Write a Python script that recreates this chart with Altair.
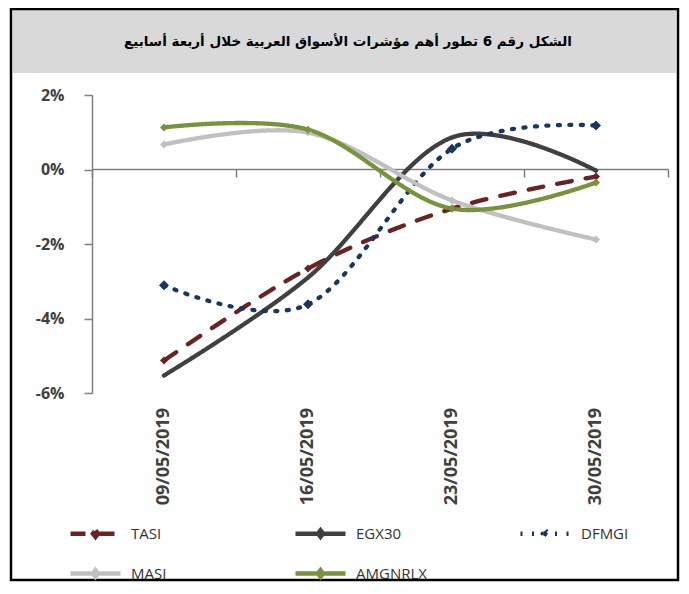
import altair as alt
import pandas as pd

dates = ["09/05/2019", "16/05/2019", "23/05/2019", "30/05/2019"]
series = ["TASI", "EGX30", "DFMGI", "MASI", "AMGNRLX"]
tasi = [-5.13, -2.66, -1.05, -0.19]
egx30 = [-5.53, -2.90, 0.86, -0.03]
dfmgi = [-3.11, -3.62, 0.56, 1.18]
masi = [0.67, 0.99, -0.83, -1.88]
amgnrlx = [1.13, 1.07, -1.05, -0.35]
y_ticks = [-6, -4, -2, 0, 2]
title_text = "الشكل رقم 6 تطور أهم مؤشرات الأسواق العربية خلال أربعة أسابيع"

colors = ["#6b2222", "#404040", "#17375e", "#c0c0c0", "#77933c"]
dashes = [[15, 14], [1, 0], [2, 9.5], [1, 0], [1, 0]]
marker_sizes = [64, 25, 100, 64, 64]
legend_sizes = [2500, 2500, 2500, 2500, 2500]

values = {"TASI": tasi, "EGX30": egx30, "DFMGI": dfmgi, "MASI": masi, "AMGNRLX": amgnrlx}
rows = []
for s in series:
    for d, v in zip(dates, values[s]):
        rows.append({"series": s, "marker": s, "date": d, "value": v})
df = pd.DataFrame(rows)
dates_df = pd.DataFrame({"date": dates})

axis_color = "#7f7f7f"
x_enc = alt.X(
    "date:N",
    sort=dates,
    scale=alt.Scale(type="band", domain=dates, paddingInner=0, paddingOuter=0),
    axis=alt.Axis(orient="bottom", offset=-224, labels=False, title=None,
                  tickBand="extent", tickSize=8, tickColor=axis_color,
                  domainColor=axis_color, tickWidth=1.5, domainWidth=1.5),
)
y_enc = alt.Y(
    "value:Q",
    scale=alt.Scale(domain=[-6, 2], nice=False, zero=False),
    axis=alt.Axis(values=y_ticks, labelExpr="datum.value + '%'", grid=False, title=None,
                  tickSize=8, labelPadding=20, labelFont="Open Sans", labelFontSize=16,
                  labelFontWeight="bold", labelColor="#404040", domainColor=axis_color,
                  tickColor=axis_color, domainWidth=1.5, tickWidth=1.5),
)

sym_path = "M-1,0H1M0,-0.13L0.1,0L0,0.13L-0.1,0Z"
legend = alt.Legend(
    title=None, orient="none", legendX=-24, legendY=411, columns=3,
    direction="horizontal",
    columnPadding=84, rowPadding=-30, symbolType=sym_path, symbolSize=2500,
    symbolStrokeWidth=4.5, symbolOpacity=1, labelFont="Open Sans", labelFontSize=15,
    labelColor="#333333", labelOffset=8, gridAlign="all", padding=0,
)

color_enc = alt.Color("series:N", scale=alt.Scale(domain=series, range=colors), legend=legend)
dash_enc = alt.StrokeDash("series:N", scale=alt.Scale(domain=series, range=dashes), legend=legend)

one = alt.Data(values=[{"k": 1}])

band = alt.Chart(one).mark_rect(fill="#d9d9d9").encode(
    x=alt.value(-79), x2=alt.value(584), y=alt.value(-85), y2=alt.value(-22)
)
border = alt.Chart(one).mark_rect(fillOpacity=0, stroke="black", strokeWidth=2.5).encode(
    x=alt.value(-81), x2=alt.value(586), y=alt.value(-86), y2=alt.value(485)
)
title = alt.Chart(one).mark_text(
    text=title_text, font="DejaVu Sans", fontSize=13.5, fontWeight="bold",
    color="black", align="center", baseline="middle", dir="rtl"
).encode(x=alt.value(256), y=alt.value(-53))

lines = alt.Chart(df).mark_line(interpolate="cardinal", strokeCap="round", strokeWidth=4.3).encode(
    x=x_enc, y=y_enc, color=color_enc, strokeDash=dash_enc,
    order=alt.Order("date:N"),
)
# empty layer: only carries the legend symbol size
legend_size = alt.Chart(df).transform_filter("false").mark_point(opacity=1).encode(
    x=x_enc, y=y_enc, color=color_enc,
    size=alt.Size("series:N", scale=alt.Scale(domain=series, range=legend_sizes), legend=legend),
)

fill_enc = alt.Fill("marker:N", scale=alt.Scale(domain=series, range=colors), legend=None)
point_layers = []
for sz in sorted(set(marker_sizes)):
    names = [s for s, m in zip(series, marker_sizes) if m == sz]
    point_layers.append(
        alt.Chart(df)
        .transform_filter(alt.FieldOneOfPredicate(field="marker", oneOf=names))
        .mark_point(shape="diamond", filled=True, opacity=1, size=sz)
        .encode(x=x_enc, y=y_enc, fill=fill_enc)
    )

labels = alt.Chart(dates_df).mark_text(
    angle=270, align="right", baseline="middle", font="Open Sans", fontSize=18,
    fontWeight="bold", color="#404040"
).encode(x=x_enc, y=alt.value(313), text="date:N")

chart = alt.layer(band, border, title, lines, legend_size, *point_layers, labels).properties(
    width=576, height=298,
    padding={"left": 84, "top": 87, "right": 12, "bottom": 189},
    autosize=alt.AutoSizeParams(type="none"),
).configure(
    background="white",
    view=alt.ViewConfig(stroke=None),
)

chart.save("out.html", embed_options={"renderer": "svg", "actions": False})
